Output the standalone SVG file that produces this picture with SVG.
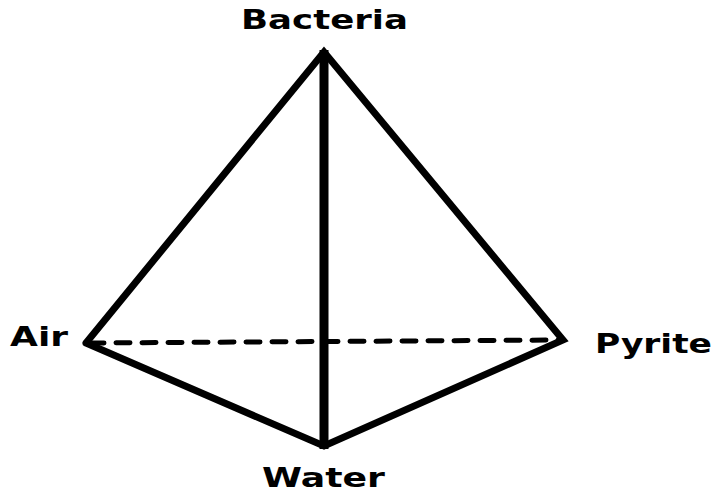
<svg xmlns="http://www.w3.org/2000/svg" width="715" height="492" viewBox="0 0 715 492">
<style>
.lbl{font-family:"DejaVu Sans","Verdana",sans-serif;font-weight:bold;font-size:27px;fill:#000}
.edge{stroke:#000;stroke-width:7;fill:none;stroke-linejoin:miter;stroke-linecap:round}
</style>
<rect width="715" height="492" fill="#fff"/>
<g id="connectors">
<polyline class="edge" points="86,343 324,52 563,340 324,446 86,343"/>
<line x1="90" y1="343" x2="558" y2="340" stroke="#000" stroke-width="5" stroke-dasharray="14 12" stroke-linecap="round"/>
<line x1="324" y1="50" x2="324" y2="449" stroke="#000" stroke-width="9"/>
</g>
<g id="bacteria"><text class="lbl" x="241" y="29" textLength="167" lengthAdjust="spacingAndGlyphs">Bacteria</text></g>
<g id="air"><text class="lbl" x="10" y="346" textLength="58" lengthAdjust="spacingAndGlyphs">Air</text></g>
<g id="pyrite"><text class="lbl" x="595" y="353" textLength="117" lengthAdjust="spacingAndGlyphs">Pyrite</text></g>
<g id="water"><text class="lbl" x="262" y="487" textLength="123" lengthAdjust="spacingAndGlyphs">Water</text></g>
</svg>
